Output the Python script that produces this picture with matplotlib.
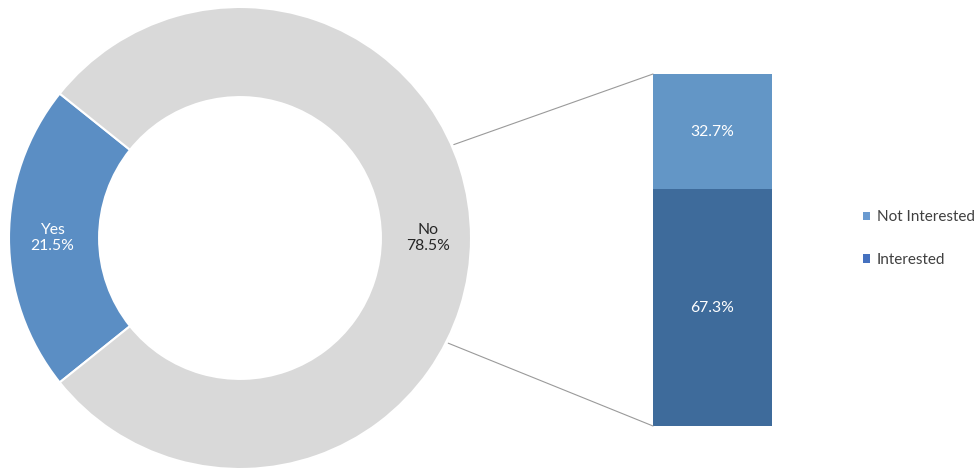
import numpy as np
import matplotlib
matplotlib.use("Agg")
import matplotlib.pyplot as plt
from matplotlib.patches import ConnectionPatch
from matplotlib.patches import Patch

plt.rcParams['font.family'] = ['Lato', 'DejaVu Sans']

# Donut data
donut_labels = ["Yes", "No"]
donut_values = [21.5, 78.5]
donut_colors = ["#5B8EC4", "#D9D9D9"]

# Breakdown of the "No" share
bar_labels = ["Interested", "Not Interested"]
bar_values = [67.3, 32.7]
bar_colors = ["#3E6B9B", "#6396C6"]
legend_colors = ["#4571BF", "#6A9AD0"]

W, H = 975, 472
fig = plt.figure(figsize=(W / 100, H / 100), dpi=100)

# Donut axes (pixel box converted to figure fraction)
cx, cy, r = 240, 238, 231
ax = fig.add_axes([(cx - r) / W, (H - cy - r) / H, 2 * r / W, 2 * r / H])
ring = 0.39
yes_share = donut_values[0] / sum(donut_values) * 360
wedges, _ = ax.pie(donut_values, colors=donut_colors, startangle=180 - yes_share / 2,
                   counterclock=True, radius=1.0,
                   wedgeprops=dict(width=ring, edgecolor="white", linewidth=1.5))
ax.set_xlim(-1, 1)
ax.set_ylim(-1, 1)
ax.set_aspect("equal")
ax.axis("off")

mid_r = 1 - ring / 2
for lab, val, col, w in zip(donut_labels, donut_values, ["white", "#262626"], wedges):
    ang = np.deg2rad((w.theta1 + w.theta2) / 2)
    ax.text(mid_r * np.cos(ang) * 1.01, mid_r * np.sin(ang), f"{lab}\n{val}%",
            ha="center", va="center", fontsize=11.3, color=col, linespacing=1.2)

# Stacked bar axes
bx0, bx1, by0, by1 = 653, 772, 74, 426
bax = fig.add_axes([bx0 / W, (H - by1) / H, (bx1 - bx0) / W, (by1 - by0) / H])
bottom = 0
for lab, val, col in zip(bar_labels, bar_values, bar_colors):
    bax.bar(0, val, bottom=bottom, width=1.0, color=col, edgecolor="none")
    bax.text(0, bottom + val / 2, f"{val}%", ha="center", va="center",
             fontsize=11.3, color="white")
    bottom += val
bax.set_xlim(-0.5, 0.5)
bax.set_ylim(0, sum(bar_values))
bax.axis("off")

# Connector lines from the ring to the bar corners
for ang_deg, ybar in [(23.6, sum(bar_values)), (-26.8, 0)]:
    a = np.deg2rad(ang_deg)
    con = ConnectionPatch(xyA=(1.01 * np.cos(a), 1.01 * np.sin(a)), coordsA=ax.transData,
                          xyB=(-0.5, ybar), coordsB=bax.transData,
                          color="#9A9A9A", linewidth=0.8)
    fig.add_artist(con)

# Legend
handles = [Patch(facecolor=legend_colors[1], label=bar_labels[1]),
           Patch(facecolor=legend_colors[0], label=bar_labels[0])]
fig.legend(handles=handles, loc="center left", bbox_to_anchor=(849 / W, 1 - 238.5 / H),
           frameon=False, fontsize=11, handlelength=0.46, handleheight=0.46,
           handletextpad=0.46, labelspacing=1.88, labelcolor="#404040")

fig.savefig("out.png", dpi=100, facecolor="white")
